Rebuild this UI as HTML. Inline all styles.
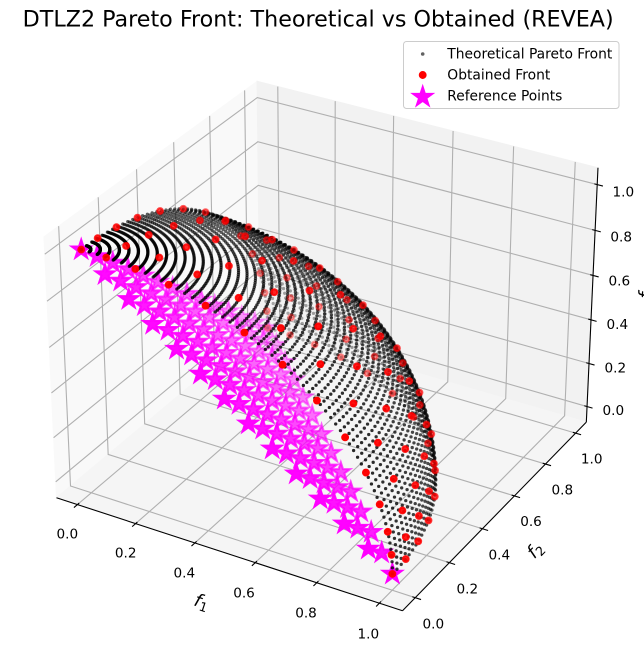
<!DOCTYPE html>
<html><head><meta charset="utf-8">
<style>
html,body{margin:0;padding:0;background:#fff;}
svg{display:block;}
text{font-family:"DejaVu Sans","Liberation Sans",sans-serif;}
</style></head>
<body>
<svg id="s" width="644" height="660" viewBox="0 0 644 660" xmlns="http://www.w3.org/2000/svg">
<rect width="644" height="660" fill="#fff"/>
<g id="axes"></g>
<g id="ticklabels" font-size="13.6" fill="#000" text-anchor="middle">
<text x="67.3" y="538.3">0.0</text>
<text x="125.7" y="557.7">0.2</text>
<text x="184.3" y="577.7">0.4</text>
<text x="244" y="597.7">0.6</text>
<text x="306" y="617.7">0.8</text>
<text x="368.3" y="638.3">1.0</text>
<text x="433.3" y="628.3">0.0</text>
<text x="467.3" y="593.3">0.2</text>
<text x="499.3" y="559.3">0.4</text>
<text x="531" y="526">0.6</text>
<text x="562.3" y="494.3">0.8</text>
<text x="591.7" y="463.3">1.0</text>
<text x="623.3" y="196.7">1.0</text>
<text x="621.2" y="241.7">0.8</text>
<text x="619.3" y="285.7">0.6</text>
<text x="617.3" y="329">0.4</text>
<text x="615.3" y="372.3">0.2</text>
<text x="613.3" y="415">0.0</text>
</g>
<text transform="translate(201.7,601.7) rotate(18.2)" text-anchor="middle" dominant-baseline="central" font-size="18"><tspan font-style="italic">f</tspan><tspan font-size="12.6" dy="4">1</tspan></text>
<text transform="translate(535,550) rotate(-45.6)" text-anchor="middle" dominant-baseline="central" font-size="18"><tspan font-style="italic">f</tspan><tspan font-size="12.6" dy="4">2</tspan></text>
<text transform="translate(651.5,299) rotate(-87.5)" font-size="18"><tspan font-style="italic">f</tspan><tspan font-size="12.6" dy="4">3</tspan></text>
<g id="data"></g>
<text x="318.2" y="26.5" font-size="22.2" text-anchor="middle" textLength="591" lengthAdjust="spacingAndGlyphs">DTLZ2 Pareto Front: Theoretical vs Obtained (REVEA)</text>
<g id="legend">
<rect x="403.5" y="41.5" width="215.5" height="67" rx="3" ry="3" fill="#fff" fill-opacity="0.8" stroke="#cccccc" stroke-width="1"/>
<circle cx="422.7" cy="54" r="1.8" fill="#000" fill-opacity="0.62"/>
<circle cx="422.7" cy="75" r="2.9" fill="#ff0000" stroke="#ff0000" stroke-width="2.08"/>
<path id="legstar" fill="#ff00ff" stroke="#ff00ff" stroke-width="2.08" d=""/>
<text x="447.3" y="58.5" font-size="13.9" textLength="165" lengthAdjust="spacingAndGlyphs">Theoretical Pareto Front</text>
<text x="447.3" y="79.5" font-size="13.9" textLength="103" lengthAdjust="spacingAndGlyphs">Obtained Front</text>
<text x="447.3" y="100.5" font-size="13.9" textLength="115" lengthAdjust="spacingAndGlyphs">Reference Points</text>
</g>
</svg>
<script>
(function(){
var S=3329.7, X0=326.3, Y0=333.3;
var L=-0.05, RG=1.1;
function P(x,y,z){
  var nx=(x-L)/RG-0.5, ny=(y-L)/RG-0.5, nz=(z-L)/RG-0.5;
  var dx=nx*8/7, dy=ny*8/7, dz=nz*6/7;
  var u=0.8660254*dx+0.5*dy;
  var v=-0.25*dx+0.4330127*dy+0.8660254*dz;
  var w=0.4330127*dx-0.75*dy+0.5*dz;
  var den=10-w;
  return [X0+S*u/den, Y0-S*v/den, -10/den];
}
var lo=L-RG/48, hi=L+RG+RG/48;
function pts(arr){return arr.map(function(p){var q=P(p[0],p[1],p[2]);return q[0].toFixed(2)+','+q[1].toFixed(2);}).join(' ');}
var a=[];
a.push('<polygon points="'+pts([[lo,lo,lo],[lo,hi,lo],[lo,hi,hi],[lo,lo,hi]])+'" fill="#f9f9f9" stroke="#f9f9f9"/>');
a.push('<polygon points="'+pts([[lo,hi,lo],[hi,hi,lo],[hi,hi,hi],[lo,hi,hi]])+'" fill="#f2f2f2" stroke="#f2f2f2"/>');
a.push('<polygon points="'+pts([[lo,lo,lo],[hi,lo,lo],[hi,hi,lo],[lo,hi,lo]])+'" fill="#f5f5f5" stroke="#f5f5f5"/>');
var ticks=[0,0.2,0.4,0.6,0.8,1.0];
ticks.forEach(function(t){
  a.push('<polyline points="'+pts([[t,lo,lo],[t,hi,lo],[t,hi,hi]])+'" fill="none" stroke="#b0b0b0" stroke-width="1.1"/>');
  a.push('<polyline points="'+pts([[hi,t,lo],[lo,t,lo],[lo,t,hi]])+'" fill="none" stroke="#b0b0b0" stroke-width="1.1"/>');
  a.push('<polyline points="'+pts([[hi,hi,t],[lo,hi,t],[lo,lo,t]])+'" fill="none" stroke="#b0b0b0" stroke-width="1.1"/>');
});
a.push('<polyline points="'+pts([[lo,lo,lo],[hi,lo,lo]])+'" fill="none" stroke="#000" stroke-width="1.1"/>');
a.push('<polyline points="'+pts([[hi,lo,lo],[hi,hi,lo]])+'" fill="none" stroke="#000" stroke-width="1.1"/>');
a.push('<polyline points="'+pts([[hi,hi,lo],[hi,hi,hi]])+'" fill="none" stroke="#000" stroke-width="1.1"/>');
var d=RG/12, tin=0.1*d, tout=0.2*d;
ticks.forEach(function(t){
  a.push('<polyline points="'+pts([[t,lo+tin,lo],[t,lo-tout,lo]])+'" fill="none" stroke="#000" stroke-width="1.1"/>');
  a.push('<polyline points="'+pts([[hi-tin,t,lo],[hi+tout,t,lo]])+'" fill="none" stroke="#000" stroke-width="1.1"/>');
  a.push('<polyline points="'+pts([[hi-tin,hi,t],[hi+tout,hi,t]])+'" fill="none" stroke="#000" stroke-width="1.1"/>');
});
document.getElementById('axes').innerHTML=a.join('');

function shade(list){
  var mn=Infinity,mx=-Infinity;
  list.forEach(function(p){if(p[2]<mn)mn=p[2];if(p[2]>mx)mx=p[2];});
  list.forEach(function(p){p.push(1-0.7*(mx>mn?(p[2]-mn)/(mx-mn):0));});
  list.sort(function(x,y){return y[2]-x[2];});
  return list;
}
function star(cx,cy,R){
  var r=R*0.381966,s='';
  for(var k=0;k<10;k++){var ang=Math.PI/2+k*Math.PI/5;var rad=(k%2)?r:R;
    s+=(k?'L':'M')+(cx+rad*Math.cos(ang)).toFixed(2)+','+(cy-rad*Math.sin(ang)).toFixed(2);}
  return s+'Z';
}
var H=13, st=[], rd=[];
for(var i=0;i<=H;i++)for(var j=0;j<=H-i;j++){
  var k=H-i-j;
  st.push(P(i/H,j/H,k/H));
  var nrm=Math.sqrt(i*i+j*j+k*k);
  rd.push(P(i/nrm,j/nrm,k/nrm));
}
var NT=60, NP=60, th=[];
for(var ii=0;ii<NT;ii++){var t=ii/(NT-1)*Math.PI/2;
  for(var jj=0;jj<NP;jj++){var f=jj/(NP-1)*Math.PI/2;
    th.push(P(Math.sin(t)*Math.cos(f),Math.sin(t)*Math.sin(f),Math.cos(t)));}}
shade(st);shade(th);shade(rd);
var o=[];
st.forEach(function(p){var al=p[3].toFixed(3);
  o.push('<path d="'+star(p[0],p[1],9.82)+'" fill="#ff00ff" fill-opacity="'+al+'" stroke="#ff00ff" stroke-opacity="'+al+'" stroke-width="2.08"/>');});
th.forEach(function(p){var al=Math.min(1,0.8*p[3]+0.05).toFixed(3);
  o.push('<circle cx="'+p[0].toFixed(2)+'" cy="'+p[1].toFixed(2)+'" r="1.65" fill="#000" fill-opacity="'+al+'"/>');});
rd.forEach(function(p){var al=p[3].toFixed(3);
  o.push('<circle cx="'+p[0].toFixed(2)+'" cy="'+p[1].toFixed(2)+'" r="2.9" fill="#ff0000" fill-opacity="'+al+'" stroke="#ff0000" stroke-opacity="'+al+'" stroke-width="2.08"/>');});
document.getElementById('data').innerHTML=o.join('');
document.getElementById('legstar').setAttribute('d',star(422.7,97,9.82));
})();
</script>
</body></html>
